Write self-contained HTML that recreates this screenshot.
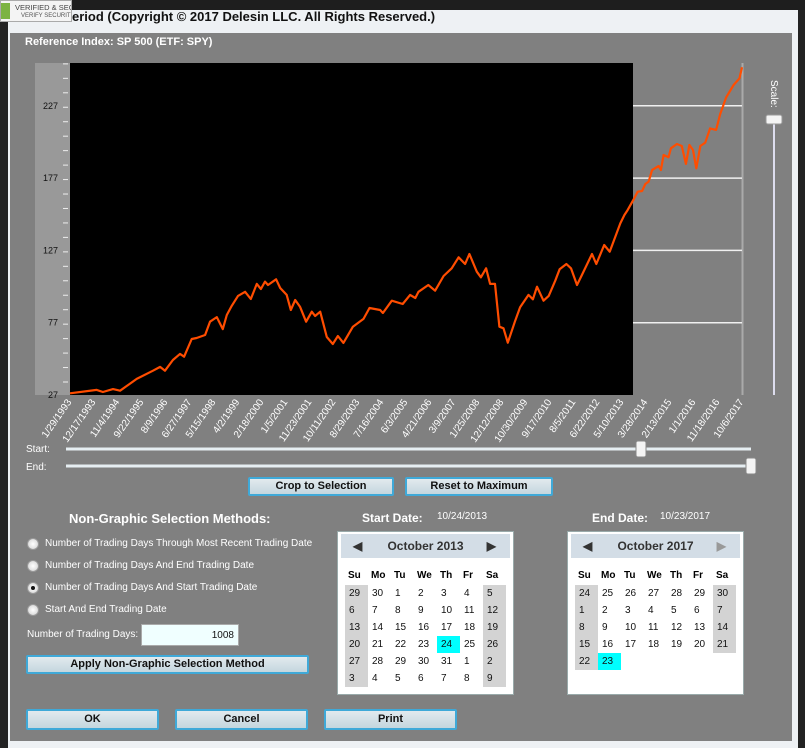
<!DOCTYPE html>
<html><head><meta charset="utf-8"><style>
*{box-sizing:border-box;margin:0;padding:0}
body{width:805px;height:748px;overflow:hidden;background:#222;font-family:"Liberation Sans",sans-serif;position:relative}
.abs{position:absolute}
.btn{position:absolute;background:linear-gradient(#e2eaee,#c4d6de);border:2px solid #3fa9d8;border-radius:2px;font-size:11px;font-weight:bold;color:#111;text-align:center;line-height:15px}
.rad{position:absolute;left:27px;width:12px;height:12px;border-radius:50%;background:radial-gradient(#fff,#cfcfcf);border:1px solid #999}
.rl{position:absolute;left:45px;font-size:10px;color:#fff}
.cal{position:absolute;width:177px;height:164px;background:#fff;border:1px solid #9aa}
.cal .hd{position:absolute;left:3px;top:2px;width:169px;height:24px;background:#d3dde6;font-size:12px;font-weight:bold;color:#333;text-align:center;line-height:24px}
.cal table{position:absolute;left:7px;top:33px;border-collapse:collapse;font-size:10px}
.cal td{width:23px;height:17px;padding-left:4px;color:#111}
.cal th{width:23px;height:20px;font-size:10px;text-align:left;padding-left:3px}
.we{background:#d3d3d3}.sel{background:#00ffff}
</style></head><body>
<div class="abs" style="left:0;top:0;width:805px;height:10px;background:#1e1e1e"></div>
<div class="abs" style="left:0;top:0;width:72px;height:22px;background:#f4f4f4;border:1px solid #aaa;overflow:hidden;white-space:nowrap">
<div style="position:absolute;left:0;top:2px;width:9px;height:16px;background:#7cb342"></div>
<div style="position:absolute;left:14px;top:2px;font-size:7.5px;color:#444">VERIFIED &amp; SECURED</div>
<div style="position:absolute;left:20px;top:12px;font-size:6px;color:#555">VERIFY SECURITY</div></div>
<div class="abs" style="left:8px;top:8px;width:790px;height:740px;background:#eef1f4;z-index:-1"></div>
<div class="abs" style="left:72px;top:9px;font-size:13px;font-weight:bold;color:#111">eriod (Copyright © 2017 Delesin LLC. All Rights Reserved.)</div>
<div class="abs" style="left:10px;top:33px;width:782px;height:708px;background:#808080"></div>
<div class="abs" style="left:25px;top:36px;font-size:11px;font-weight:bold;color:#fff">Reference Index: SP 500 (ETF: SPY)</div>

<svg class="abs" style="left:0;top:0" width="805" height="480" id="chart">
<rect x="35" y="63" width="35" height="332" fill="#999"/>
<rect x="70" y="63" width="563" height="332" fill="#000"/>
<line x1="742.5" y1="63" x2="742.5" y2="395" stroke="#aaa" stroke-width="2"/>
<g id="ticks"></g><g id="grid"></g><g id="ylab"></g><g id="xlab"></g>
<path id="line" fill="none" stroke="#ff4d00" stroke-width="2.2" stroke-linejoin="round"/>
<text x="771" y="80" font-size="10" fill="#fff" transform="rotate(90 771 80)">Scale:</text>
<line x1="774" y1="118" x2="774" y2="395" stroke="#dde" stroke-width="2"/>
<rect x="766" y="115" width="16" height="9" rx="2" fill="#f4f4f4" stroke="#999"/>
<text x="26" y="452" font-size="10" fill="#fff">Start:</text>
<text x="26" y="470" font-size="10" fill="#fff">End:</text>
<line x1="66" y1="449" x2="751" y2="449" stroke="#e6eef2" stroke-width="3"/>
<line x1="66" y1="466" x2="751" y2="466" stroke="#e6eef2" stroke-width="3"/>
<rect x="636" y="441" width="10" height="16" rx="2" fill="#f4f4f4" stroke="#888"/>
<rect x="746" y="458" width="10" height="16" rx="2" fill="#f4f4f4" stroke="#888"/>
</svg>

<div class="btn" style="left:248px;top:477px;width:146px;height:19px">Crop to Selection</div>
<div class="btn" style="left:405px;top:477px;width:148px;height:19px">Reset to Maximum</div>

<div class="abs" style="left:69px;top:511px;font-size:13px;font-weight:bold;color:#fff">Non-Graphic Selection Methods:</div>
<div class="rad" style="top:538px"></div><div class="rl" style="top:538px">Number of Trading Days Through Most Recent Trading Date</div>
<div class="rad" style="top:560px"></div><div class="rl" style="top:560px">Number of Trading Days And End Trading Date</div>
<div class="rad" style="top:582px"><div style="width:4px;height:4px;background:#111;border-radius:50%;margin:3px"></div></div><div class="rl" style="top:582px">Number of Trading Days And Start Trading Date</div>
<div class="rad" style="top:604px"></div><div class="rl" style="top:604px">Start And End Trading Date</div>
<div class="abs" style="left:27px;top:629px;font-size:10px;color:#fff">Number of Trading Days:</div>
<div class="abs" style="left:141px;top:624px;width:98px;height:22px;background:#f0ffff;border:1px solid #aaa;font-size:10px;text-align:right;padding:5px 4px 0 0;color:#111">1008</div>
<div class="btn" style="left:26px;top:655px;width:283px;height:19px">Apply Non-Graphic Selection Method</div>
<div class="btn" style="left:26px;top:709px;width:133px;height:21px;line-height:17px">OK</div>
<div class="btn" style="left:175px;top:709px;width:133px;height:21px;line-height:17px">Cancel</div>
<div class="btn" style="left:324px;top:709px;width:133px;height:21px;line-height:17px">Print</div>

<div class="abs" style="left:362px;top:511px;font-size:12px;font-weight:bold;color:#fff">Start Date:</div>
<div class="abs" style="left:437px;top:511px;font-size:10px;color:#fff">10/24/2013</div>
<div class="abs" style="left:592px;top:511px;font-size:12px;font-weight:bold;color:#fff">End Date:</div>
<div class="abs" style="left:660px;top:511px;font-size:10px;color:#fff">10/23/2017</div>

<div class="cal" style="left:337px;top:531px">
<div class="hd"><span style="position:absolute;left:12px">◀</span>October 2013<span style="position:absolute;right:14px">▶</span></div>
<table><tr><th>Su</th><th>Mo</th><th>Tu</th><th>We</th><th>Th</th><th>Fr</th><th>Sa</th></tr>
<tr><td class="we">29</td><td>30</td><td>1</td><td>2</td><td>3</td><td>4</td><td class="we">5</td></tr>
<tr><td class="we">6</td><td>7</td><td>8</td><td>9</td><td>10</td><td>11</td><td class="we">12</td></tr>
<tr><td class="we">13</td><td>14</td><td>15</td><td>16</td><td>17</td><td>18</td><td class="we">19</td></tr>
<tr><td class="we">20</td><td>21</td><td>22</td><td>23</td><td class="sel">24</td><td>25</td><td class="we">26</td></tr>
<tr><td class="we">27</td><td>28</td><td>29</td><td>30</td><td>31</td><td>1</td><td class="we">2</td></tr>
<tr><td class="we">3</td><td>4</td><td>5</td><td>6</td><td>7</td><td>8</td><td class="we">9</td></tr></table></div>

<div class="cal" style="left:567px;top:531px">
<div class="hd"><span style="position:absolute;left:12px">◀</span>October 2017<span style="position:absolute;right:14px;color:#999">▶</span></div>
<table><tr><th>Su</th><th>Mo</th><th>Tu</th><th>We</th><th>Th</th><th>Fr</th><th>Sa</th></tr>
<tr><td class="we">24</td><td>25</td><td>26</td><td>27</td><td>28</td><td>29</td><td class="we">30</td></tr>
<tr><td class="we">1</td><td>2</td><td>3</td><td>4</td><td>5</td><td>6</td><td class="we">7</td></tr>
<tr><td class="we">8</td><td>9</td><td>10</td><td>11</td><td>12</td><td>13</td><td class="we">14</td></tr>
<tr><td class="we">15</td><td>16</td><td>17</td><td>18</td><td>19</td><td>20</td><td class="we">21</td></tr>
<tr><td class="we">22</td><td class="sel">23</td><td></td><td></td><td></td><td></td><td></td></tr>
<tr><td></td><td></td><td></td><td></td><td></td><td></td><td></td></tr></table></div>

<script>
const years=[1993.08,1994.06,1994.29,1994.66,1994.92,1995.53,1996.13,1996.39,1996.57,1996.86,1997.12,1997.27,1997.55,1997.73,1998.04,1998.22,1998.47,1998.69,1998.84,1999.02,1999.25,1999.51,1999.72,1999.94,2000.09,2000.24,2000.35,2000.65,2000.80,2001.04,2001.19,2001.35,2001.53,2001.75,2001.96,2002.08,2002.27,2002.51,2002.73,2002.92,2003.12,2003.47,2003.86,2004.08,2004.47,2004.57,2004.90,2005.30,2005.57,2005.76,2005.88,2006.24,2006.49,2006.80,2007.10,2007.35,2007.59,2007.75,2008.02,2008.17,2008.36,2008.51,2008.69,2008.85,2009.00,2009.16,2009.43,2009.61,2009.92,2010.08,2010.23,2010.47,2010.66,2010.90,2011.06,2011.31,2011.48,2011.70,2011.88,2012.25,2012.41,2012.70,2012.90,2013.29,2013.44,2013.56,2013.78,2013.93,2014.09,2014.21,2014.33,2014.46,2014.70,2014.78,2014.88,2015.06,2015.15,2015.37,2015.55,2015.70,2015.83,2015.96,2016.08,2016.23,2016.41,2016.59,2016.81,2016.96,2017.18,2017.45,2017.67,2017.76];
const prices=[28.2,30.5,29.1,31.1,30.0,38.1,43.8,46.4,43.8,51.2,55.4,53.5,65.7,66.4,68.5,77.7,80.9,72.6,82.3,88.6,95.5,98.4,93.4,103.8,100.3,105.4,103.1,107.0,101.0,96.2,85.8,92.7,87.9,77.7,84.6,81.6,84.6,67.1,62.3,67.8,63.0,74.2,79.6,87.2,85.8,83.7,92.2,89.9,96.2,94.1,98.4,103.1,99.1,109.3,114.6,122.2,117.6,124.5,112.3,108.4,114.6,103.8,103.8,74.2,73.1,63.2,78.4,87.7,96.2,93.2,101.9,92.2,95.5,106.0,113.9,117.6,114.6,103.1,110.0,124.5,117.6,130.7,126.1,145.7,151.5,154.9,162.3,167.6,168.1,172.9,174.5,182.6,185.4,182.6,193.0,191.4,197.6,200.6,199.2,186.8,199.9,196.4,183.8,199.2,201.5,211.4,210.3,221.3,232.9,241.4,246.0,253.6];
const yTicks=[27,77,127,177,227];
const xLabels=["1/29/1993","12/17/1993","11/4/1994","9/22/1995","8/9/1996","6/27/1997","5/15/1998","4/2/1999","2/18/2000","1/5/2001","11/23/2001","10/11/2002","8/29/2003","7/16/2004","6/3/2005","4/21/2006","3/9/2007","1/25/2008","12/12/2008","10/30/2009","9/17/2010","8/5/2011","6/22/2012","5/10/2013","3/28/2014","2/13/2015","1/1/2016","11/18/2016","10/6/2017"];
const X0=70,X1=742,Y0=395;
const xs=y=>X0+(y-1993.08)/(2017.76-1993.08)*(X1-X0);
const ys=v=>Y0-(v-27)*72.3/50;
const NS="http://www.w3.org/2000/svg";
function mk(t,a,p){const e=document.createElementNS(NS,t);for(const k in a)e.setAttribute(k,a[k]);p.appendChild(e);return e;}
const tk=document.getElementById('ticks');
for(let y=395-13;y>63;y-=14.46){mk('line',{x1:63,x2:68,y1:y,y2:y,stroke:'#eee','stroke-width':1},tk);}
const gr=document.getElementById('grid'),yl=document.getElementById('ylab');
yTicks.forEach(v=>{
  const y=ys(v);
  if(v>27){const g=mk('line',{x1:633,x2:742,y1:y,y2:y,stroke:'#f0f0f0','stroke-width':1.5},gr);
  
  }
  const t=mk('text',{x:58,y:y+3,'font-size':9,'text-anchor':'end',fill:'#111'},yl);
  t.textContent=v;
  
  
});
const xl=document.getElementById('xlab');
xLabels.forEach((s,i)=>{
  const x=X0+i*(X1-X0)/(xLabels.length-1);
  const t=mk('text',{x:x+2,y:402,'font-size':10,'text-anchor':'end',fill:'#fff',transform:`rotate(-55 ${x+2} 402)`},xl);
  t.textContent=s;
  
  
});
document.getElementById('line').setAttribute('d',years.map((y,i)=>(i?'L':'M')+xs(y).toFixed(1)+','+ys(prices[i]).toFixed(1)).join(''));
</script>
</body></html>
